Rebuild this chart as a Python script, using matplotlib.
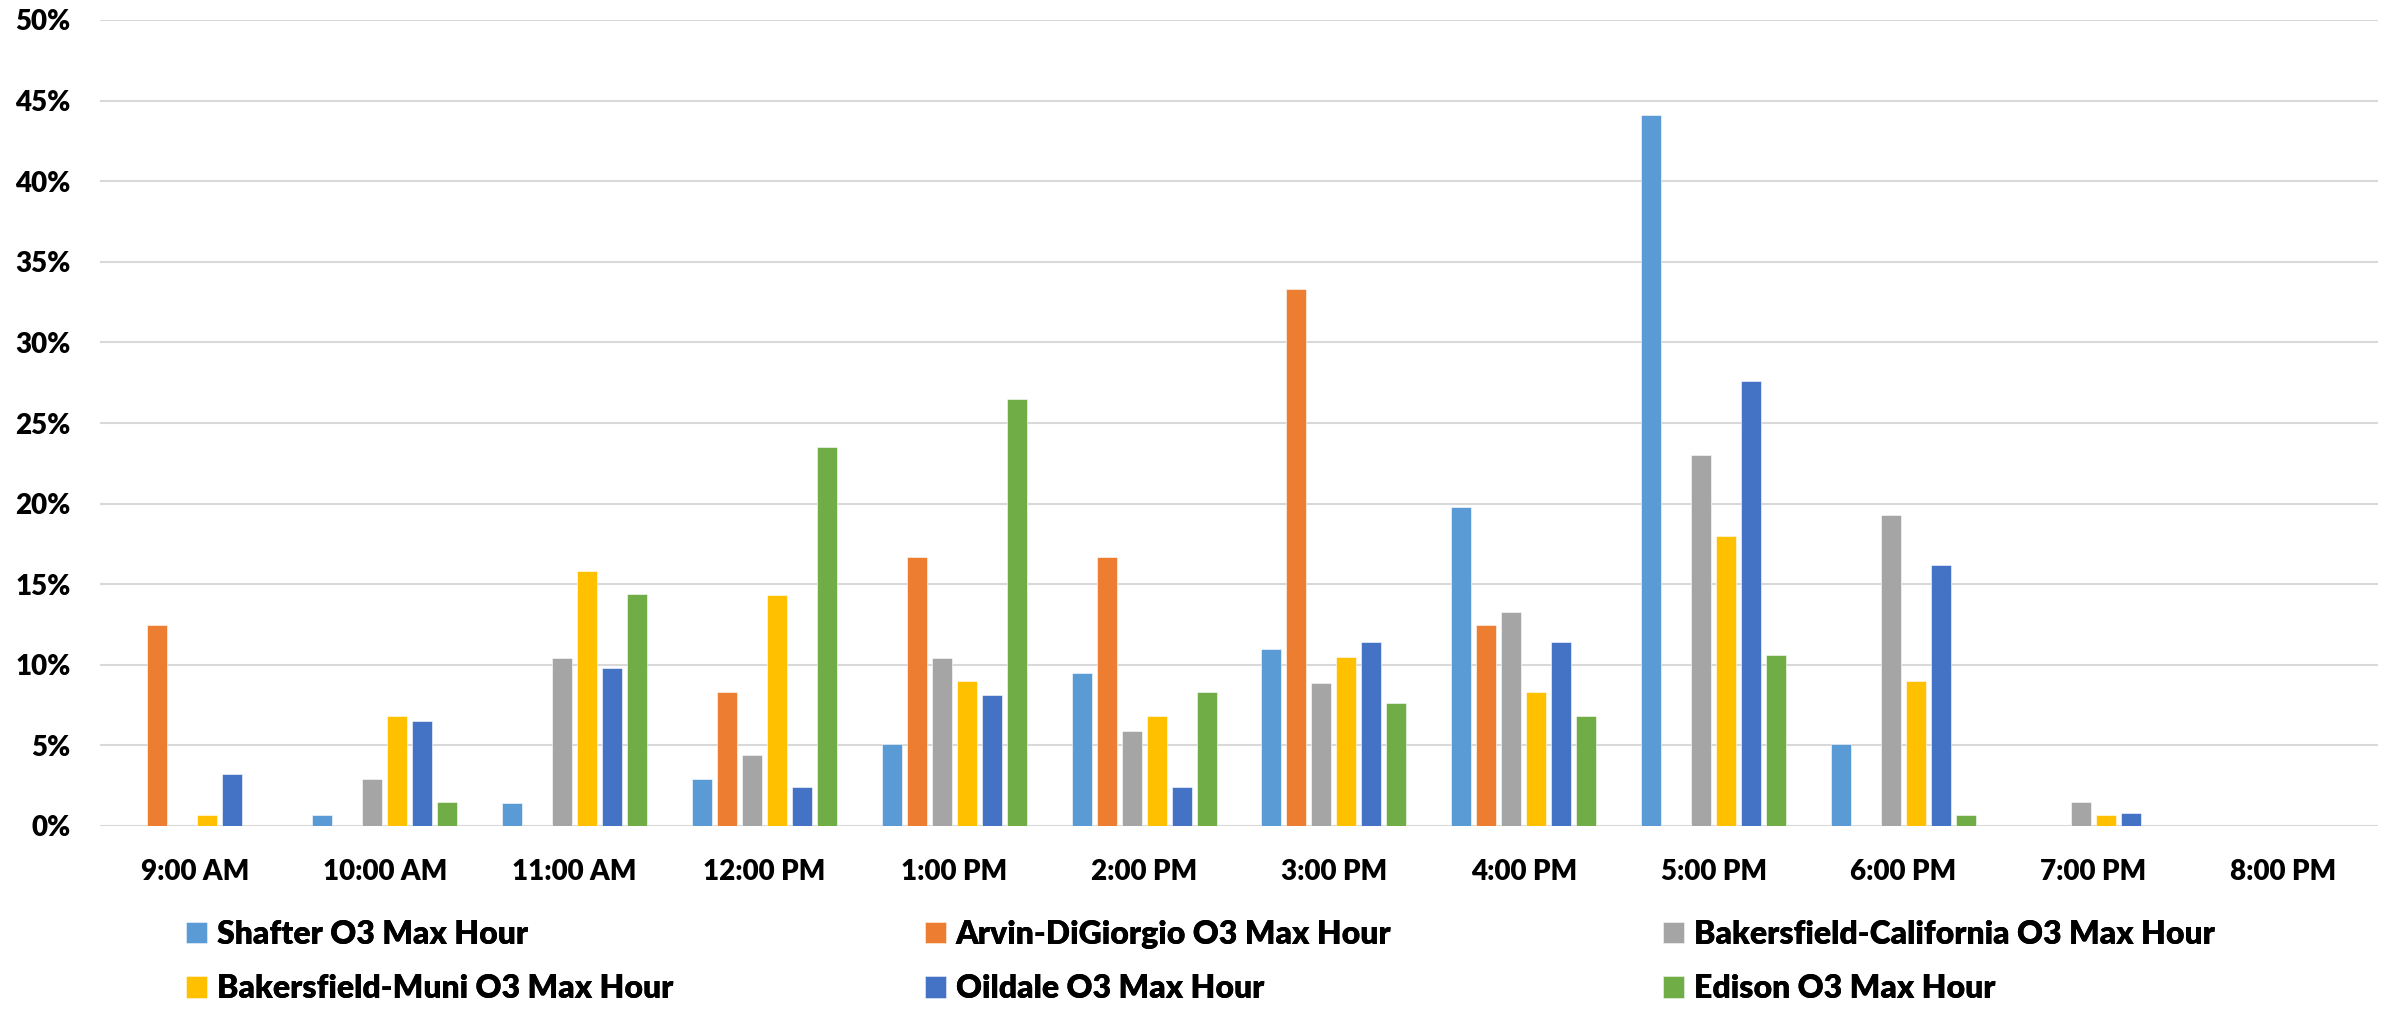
import matplotlib
matplotlib.use("Agg")
import matplotlib.pyplot as plt
import numpy as np
from matplotlib.ticker import FuncFormatter

hours = ["9:00 AM", "10:00 AM", "11:00 AM", "12:00 PM", "1:00 PM", "2:00 PM",
         "3:00 PM", "4:00 PM", "5:00 PM", "6:00 PM", "7:00 PM", "8:00 PM"]

shafter       = [0.0, 0.7, 1.4, 2.9, 5.1, 9.5, 11.0, 19.8, 44.1, 5.1, 0.0, 0.0]
arvin         = [12.5, 0.0, 0.0, 8.3, 16.7, 16.7, 33.3, 12.5, 0.0, 0.0, 0.0, 0.0]
bak_california = [0.0, 2.9, 10.4, 4.4, 10.4, 5.9, 8.9, 13.3, 23.0, 19.3, 1.5, 0.0]
bak_muni      = [0.7, 6.8, 15.8, 14.3, 9.0, 6.8, 10.5, 8.3, 18.0, 9.0, 0.7, 0.0]
oildale       = [3.2, 6.5, 9.8, 2.4, 8.1, 2.4, 11.4, 11.4, 27.6, 16.2, 0.8, 0.0]
edison        = [0.0, 1.5, 14.4, 23.5, 26.5, 8.3, 7.6, 6.8, 10.6, 0.7, 0.0, 0.0]

series_names = ["Shafter O3 Max Hour", "Arvin-DiGiorgio O3 Max Hour",
                "Bakersfield-California O3 Max Hour", "Bakersfield-Muni O3 Max Hour",
                "Oildale O3 Max Hour", "Edison O3 Max Hour"]
series_values = [shafter, arvin, bak_california, bak_muni, oildale, edison]
colors = ["#5B9BD5", "#ED7D31", "#A5A5A5", "#FFC000", "#4472C4", "#70AD47"]

plt.rcParams['font.family'] = ['Lato', 'DejaVu Sans']
WEIGHT = 'heavy'
plt.rcParams['font.weight'] = WEIGHT

W, H = 2392, 1009
fig = plt.figure(figsize=(W / 100, H / 100), dpi=100)
ax = fig.add_axes([100 / W, 1 - 826 / H, (2378 - 100) / W, (826 - 20) / H])

x = np.arange(len(hours))
pitch = 25 / 189.8
width = 20 / 189.8
containers = []
for i, (vals, c, name) in enumerate(zip(series_values, colors, series_names)):
    offs = (i - 2.5) * pitch
    bc = ax.bar(x + offs, np.array(vals) / 100.0, width=width, color=c,
                edgecolor='white', linewidth=0.4, label=name, zorder=3)
    containers.append(bc)

ax.set_xlim(-0.5, len(hours) - 0.5)
ax.set_ylim(0, 0.5)
ax.set_yticks(np.arange(0, 0.51, 0.05))
ax.yaxis.set_major_formatter(FuncFormatter(lambda v, p: f"{v*100:.0f}%"))
ax.set_xticks(x)
ax.set_xticklabels(hours)
ax.grid(axis='y', color='#D9D9D9', linewidth=1.5, zorder=0)
ax.set_axisbelow(True)
for s in ax.spines.values():
    s.set_visible(False)
ax.axhline(0, color='#D9D9D9', linewidth=1.8, zorder=1)
ax.tick_params(axis='both', length=0, labelsize=20, colors='black')
ax.tick_params(axis='y', pad=21)
ax.tick_params(axis='x', pad=24)
for lab in ax.get_xticklabels() + ax.get_yticklabels():
    lab.set_fontweight(WEIGHT)

# legend: three columns, two rows
cols = [(0, 3), (1, 4), (2, 5)]
col_x = [186, 925, 1663]
y_mid = 1 - 961.5 / H
for (a, b), cx in zip(cols, col_x):
    leg = fig.legend(handles=[containers[a], containers[b]],
                     labels=[series_names[a], series_names[b]],
                     loc='center left', bbox_to_anchor=(cx / W, y_mid),
                     frameon=False, borderpad=0, borderaxespad=0,
                     handlelength=0.66, handleheight=0.66, handletextpad=0.3,
                     labelspacing=0.8, prop={'weight': WEIGHT, 'size': 23})
    fig.add_artist(leg)

fig.savefig("out.png", dpi=100, facecolor='white')
